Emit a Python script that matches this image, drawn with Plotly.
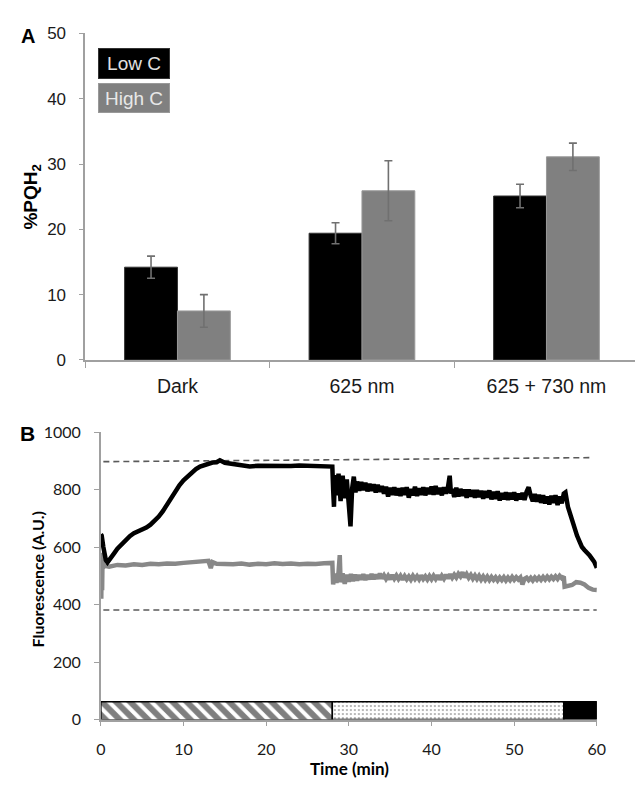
import plotly.graph_objects as go

W, H = 644, 791
def px(x): return x / W
def py(y): return 1 - y / H

# ---------------- Panel A data ----------------
categories = ["Dark", "625 nm", "625 + 730 nm"]
low_c = [14.2, 19.4, 25.1]
low_c_err = [1.7, 1.6, 1.8]
high_c = [7.5, 25.9, 31.1]
high_c_err = [2.5, 4.6, 2.1]

# ---------------- Panel B data ----------------
# Low C trace (black), 0-28 min
black_t_a = [0, 0.1, 0.3, 0.6, 0.8, 1.2, 1.6, 2.0, 2.5, 3.0, 3.5, 4.0, 4.5, 5.0, 5.5, 6.0, 6.5, 7.0,
             7.5, 8.0, 8.5, 9.0, 9.5, 10.0, 10.5, 11.0, 11.5, 12.0, 12.5, 13.0, 13.5, 14.0, 14.4, 15,
             16, 17, 18, 19, 20, 21, 22, 23, 24, 25, 26, 27, 27.9]
black_y_a = [644, 640, 600, 555, 547, 560, 578, 594, 610, 626, 638, 648, 654, 660, 668, 678, 690, 706,
             725, 748, 772, 796, 815, 832, 846, 860, 871, 880, 886, 890, 894, 895, 902, 893,
             888, 884, 880, 883, 882, 884, 883, 882, 884, 883, 882, 884, 883]
# 28-31 min (strong fluctuations)
black_t_b = [28.0, 28.1, 28.2, 28.3, 28.5, 28.75, 29.0, 29.25, 29.5, 29.75, 30.0, 30.2, 30.4, 30.6, 30.8]
black_y_b = [880, 800, 740, 850, 780, 855, 760, 848, 770, 835, 720, 672, 805, 845, 790]
# 31-56 min (noisy plateau)
black_t_c = [31.0, 31.25, 31.5, 31.75, 32.0, 32.25, 32.5, 32.75, 33.0, 33.25, 33.5, 33.75,
             34.0, 34.25, 34.5, 34.75, 35.0, 35.25, 35.5, 35.75, 36.0, 36.25, 36.5, 36.75,
             37.0, 37.25, 37.5, 37.75, 38.0, 38.25, 38.5, 38.75, 39.0, 39.25, 39.5, 39.75,
             40.0, 40.25, 40.5, 40.75, 41.0, 41.25, 41.5, 41.75, 42.0, 42.2, 42.35, 42.5, 42.75,
             43.0, 43.25, 43.5, 43.75, 44.0, 44.25, 44.5, 44.75, 45.0, 45.25, 45.5, 45.75,
             46.0, 46.25, 46.5, 46.75, 47.0, 47.25, 47.5, 47.75, 48.0, 48.25, 48.5, 48.75,
             49.0, 49.25, 49.5, 49.75, 50.0, 50.25, 50.5, 50.75, 51.0, 51.25, 51.5, 51.75,
             52.0, 52.25, 52.5, 52.75, 53.0, 53.25, 53.5, 53.75, 54.0, 54.25, 54.5, 54.75,
             55.0, 55.25, 55.5, 55.75, 56.0]
black_y_c = [828, 796, 826, 798, 824, 794, 820, 796, 818, 790, 816, 792,
             812, 786, 810, 776, 806, 782, 808, 780, 804, 778, 806, 782,
             808, 772, 802, 780, 810, 778, 804, 782, 808, 780, 806, 784,
             810, 782, 812, 784, 806, 780, 808, 786, 810, 848, 786, 802, 774,
             806, 776, 802, 778, 800, 772, 800, 776, 798, 772, 798, 774,
             796, 768, 795, 772, 797, 766, 792, 768, 794, 762, 788, 766,
             790, 764, 788, 766, 790, 762, 786, 766, 788, 764, 792, 808,
             778, 760, 784, 758, 782, 754, 780, 752, 776, 748, 778, 754,
             780, 746, 776, 752, 786]
# 56-60 min (decline)
black_t_d = [56.2, 56.5, 56.8, 57.0, 57.3, 57.6, 57.9, 58.2, 58.5, 58.8, 59.1, 59.4, 59.7, 60.0]
black_y_d = [790, 740, 710, 690, 660, 640, 620, 600, 590, 583, 572, 560, 548, 528]

# High C trace (gray)
gray_t_a = [0, 0.05, 0.1, 0.15, 0.2, 0.3, 0.5, 1, 2, 3, 4, 5, 6, 7, 8, 9, 10, 11, 12, 13, 13.3, 13.5,
            14, 15, 16, 17, 18, 19, 20, 21, 22, 23, 24, 25, 26, 27, 27.9]
gray_y_a = [530, 420, 580, 450, 560, 530, 535, 532, 538, 536, 540, 538, 542, 540, 543, 542, 545, 548,
            550, 552, 527, 548, 542, 540, 540, 543, 539, 542, 540, 544, 541, 543, 540, 542, 541, 544,
            545]
gray_t_b = [28.0, 28.1, 28.25, 28.5, 28.75, 28.9,
            29.0, 29.25, 29.5, 29.75, 30.0, 30.25, 30.5, 30.75, 31.0, 31.25, 31.5, 31.75,
            32.0, 32.25, 32.5, 32.75, 33.0, 33.25, 33.5, 33.75, 34.0, 34.25, 34.5, 34.75,
            35.0, 35.25, 35.5, 35.75, 36.0, 36.25, 36.5, 36.75, 37.0, 37.25, 37.5, 37.75,
            38.0, 38.25, 38.5, 38.75, 39.0, 39.25, 39.5, 39.75, 40.0, 40.25, 40.5, 40.75,
            41.0, 41.25, 41.5, 41.75, 42.0, 42.25, 42.5, 42.75, 43.0, 43.25, 43.5, 43.75,
            44.0, 44.25, 44.5, 44.75, 45.0, 45.25, 45.5, 45.75, 46.0, 46.25, 46.5, 46.75,
            47.0, 47.25, 47.5, 47.75, 48.0, 48.25, 48.5, 48.75, 49.0, 49.25, 49.5, 49.75,
            50.0, 50.25, 50.5, 50.75, 51.0, 51.25, 51.5, 51.75, 52.0, 52.25, 52.5, 52.75,
            53.0, 53.25, 53.5, 53.75, 54.0, 54.25, 54.5, 54.75, 55.0, 55.25, 55.5, 55.75,
            56.0, 56.1, 56.5, 57.0, 57.5, 58.0, 58.5, 59.0, 59.5, 60.0]
gray_y_b = [545, 470, 508, 476, 512, 572,
            478, 508, 472, 504, 480, 506, 482, 504, 484, 503, 487, 505,
            486, 502, 488, 506, 489, 504, 490, 508, 491, 502, 489, 500,
            488, 503, 490, 501, 489, 500, 487, 499, 488, 498, 487, 500,
            489, 499, 488, 501, 489, 498, 487, 499, 488, 500, 489, 502,
            487, 500, 490, 503, 491, 505, 493, 504, 494, 507, 498, 512,
            495, 506, 493, 503, 490, 501, 489, 500, 487, 498, 486, 497,
            485, 496, 486, 495, 484, 494, 485, 495, 484, 494, 485, 496,
            486, 495, 487, 494, 470, 490, 494, 485, 493, 484, 494, 486,
            495, 486, 496, 487, 497, 488, 497, 489, 498, 489, 500, 492,
            498, 462, 465, 468, 478, 476, 470, 458, 452, 451]

upper_ref_t = [0.3, 59.2]
upper_ref_y = [897, 911]
lower_ref_t = [0.3, 60.0]
lower_ref_y = [381, 381]

# light treatment bar segments (min)
seg_start = [0, 28, 56]
seg_len = [28, 28, 4]
bar_height = 62

black_t = black_t_a + black_t_b + black_t_c + black_t_d
black_y = black_y_a + black_y_b + black_y_c + black_y_d
gray_t = gray_t_a + gray_t_b
gray_y = gray_y_a + gray_y_b

AX = "#a0a0a0"
ARIAL = "Liberation Sans, Arial, sans-serif"
LATO = "Lato, Open Sans, sans-serif"

fig = go.Figure()

# ---- Panel A bars ----
fig.add_trace(go.Bar(
    x=categories, y=low_c, name="Low C", xaxis="x", yaxis="y",
    marker=dict(color="#000000", line=dict(color="#333333", width=1)),
    error_y=dict(type="data", array=low_c_err, color="#707070", thickness=1.6, width=4),
    showlegend=False))
fig.add_trace(go.Bar(
    x=categories, y=high_c, name="High C", xaxis="x", yaxis="y",
    marker=dict(color="#808080", line=dict(color="#999999", width=1)),
    error_y=dict(type="data", array=high_c_err, color="#707070", thickness=1.6, width=4),
    showlegend=False))

# ---- Panel B lines ----
fig.add_trace(go.Scatter(x=upper_ref_t, y=upper_ref_y, mode="lines", xaxis="x2", yaxis="y2",
                         line=dict(color="#5a5a5a", width=1.6, dash="6px,4px"), showlegend=False))
fig.add_trace(go.Scatter(x=lower_ref_t, y=lower_ref_y, mode="lines", xaxis="x2", yaxis="y2",
                         line=dict(color="#5a5a5a", width=1.6, dash="6px,4px"), showlegend=False))
fig.add_trace(go.Scatter(x=gray_t, y=gray_y, mode="lines", xaxis="x2", yaxis="y2",
                         line=dict(color="#888888", width=4.5), showlegend=False))
fig.add_trace(go.Scatter(x=black_t, y=black_y, mode="lines", xaxis="x2", yaxis="y2",
                         line=dict(color="#000000", width=4.5), showlegend=False))

patterns = [
    dict(shape="\\", fgcolor="#000000", bgcolor="#ffffff", size=10, solidity=0.6),
    dict(shape=".", fgcolor="#444444", bgcolor="#ffffff", size=4, solidity=0.2),
    dict(shape="", fgcolor="#000000", bgcolor="#000000"),
]
for s, l, p in zip(seg_start, seg_len, patterns):
    fig.add_trace(go.Bar(
        orientation="h", y=[bar_height / 2], x=[l], base=[s], width=[bar_height],
        xaxis="x2", yaxis="y2",
        marker=dict(color="#000000" if p["shape"] == "" else "#ffffff",
                    pattern=p, line=dict(color="#000000", width=1.5)),
        showlegend=False))

tick_font_A = dict(family=ARIAL, size=17, color="#1a1a1a")
tick_font_B = dict(family=LATO, size=16, color="#1a1a1a")

def ann(text, x, y, size, family, color="#000", **kw):
    return dict(text=text, x=px(x), y=py(y), xref="paper", yref="paper", showarrow=False,
                xanchor="center", yanchor="middle",
                font=dict(family=family, size=size, color=color), **kw)

cat_px = 188.6  # pixels per category in panel A
x_right = -0.5 + (W - 82) / cat_px

fig.update_layout(
    width=W, height=H, autosize=False,
    margin=dict(l=0, r=0, t=0, b=0),
    paper_bgcolor="white", plot_bgcolor="white",
    barmode="group", bargap=0.427, bargroupgap=0,
    xaxis=dict(domain=[px(82), 1.0], range=[-0.5, x_right], type="category",
               showline=True, linecolor=AX, linewidth=1.5, ticks="outside", tickson="boundaries",
               ticklen=6, tickcolor=AX, tickwidth=1, showgrid=False, zeroline=False,
               tickfont=dict(family=ARIAL, size=19.5, color="#1a1a1a"),
               ticklabelstandoff=8, anchor="y"),
    yaxis=dict(domain=[py(359), py(24)], range=[0, 50], tickvals=[0, 10, 20, 30, 40, 50],
               showline=True, linecolor=AX, linewidth=1.5, ticks="outside", ticklen=4,
               tickcolor=AX, showgrid=False, zeroline=False, tickfont=tick_font_A,
               ticklabelstandoff=10, anchor="x"),
    xaxis2=dict(domain=[px(98), px(605)], range=[0, 60], tickvals=[0, 10, 20, 30, 40, 50, 60],
                showline=True, linecolor=AX, linewidth=1.5, ticks="outside", ticklen=5,
                tickcolor=AX, showgrid=False, zeroline=False, tickfont=tick_font_B,
                ticklabelstandoff=9, anchor="y2"),
    yaxis2=dict(domain=[py(728), py(433)], range=[0, 1000], tickvals=[0, 200, 400, 600, 800, 1000],
                showline=True, linecolor=AX, linewidth=1.5, ticks="outside", ticklen=5,
                tickcolor=AX, showgrid=False, zeroline=False, tickfont=tick_font_B,
                ticklabelstandoff=10, anchor="x2"),
    annotations=[
        ann("<b>A</b>", 23, 27, 20, ARIAL),
        ann("<b>B</b>", 23, 434, 21, ARIAL),
        ann("<b>%PQH<sub>2</sub></b>", 28, 192, 19, ARIAL, textangle=-90),
        ann("<b>Fluorescence (A.U.)</b>", 33, 584, 16, LATO, textangle=-90),
        ann("<b>Time (min)</b>", 352, 778, 17, LATO),
        ann("Low C", 132, 54.5, 19, ARIAL, color="#e0e0e0",
            bgcolor="#000000", width=68, height=27, borderpad=1, borderwidth=1, bordercolor="#333"),
        ann("High C", 132, 90, 19, ARIAL, color="#e8e8e8",
            bgcolor="#808080", width=68, height=26, borderpad=1, borderwidth=1, bordercolor="#999"),
    ],
)

fig.write_html("out.html", config={"displayModeBar": False})
